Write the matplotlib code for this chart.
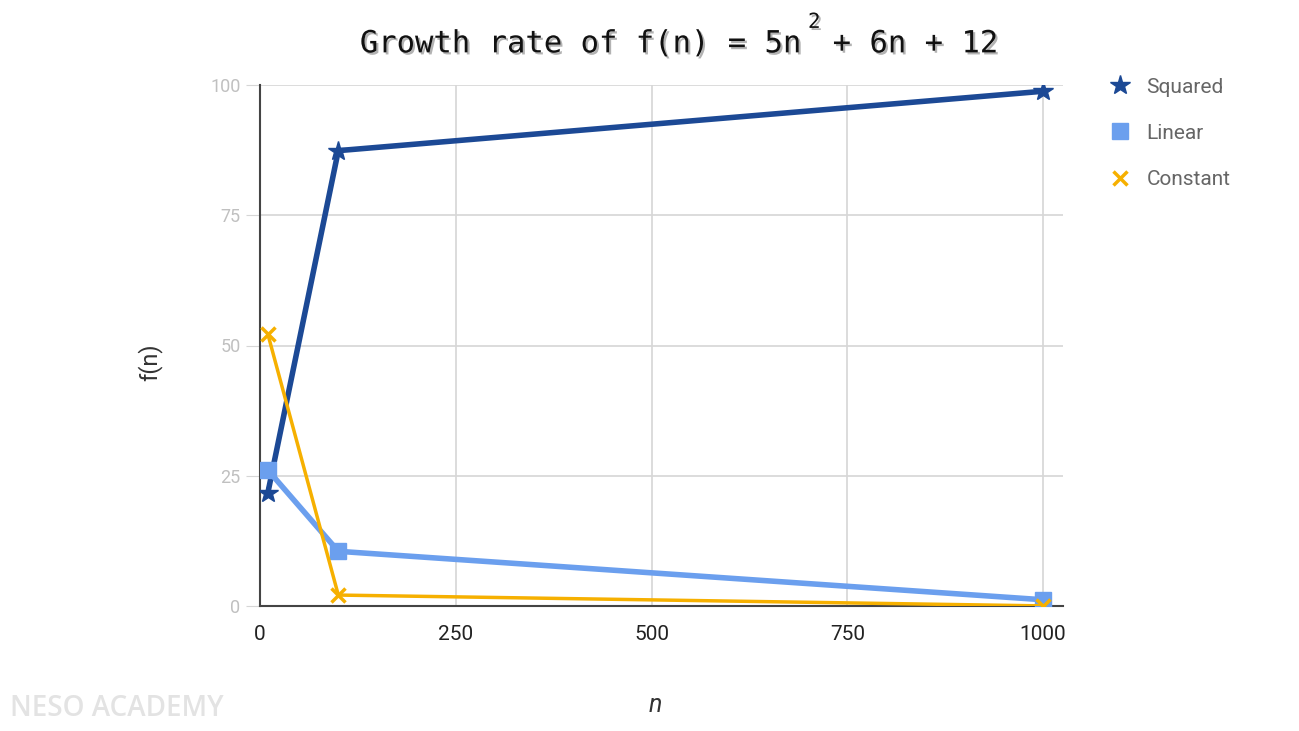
import matplotlib.pyplot as plt
import matplotlib.patheffects as pe

# data (percent share of each term)
n_vals = [10, 100, 1000]
squared = [21.7, 87.4, 98.8]
linear = [26.1, 10.5, 1.2]
constant = [52.2, 2.1, 0.02]
x_ticks = [0, 250, 500, 750, 1000]
y_ticks = [0, 25, 50, 75, 100]

c_sq = '#1c4995'
c_lin = '#6b9fee'
c_con = '#f6b000'

plt.rcParams['font.family'] = ['Roboto', 'DejaVu Sans']

fig = plt.figure(figsize=(12.99, 7.31), dpi=100)
ax = fig.add_axes([260/1299, 1 - 606/731, (1063-260)/1299, (606-85)/731])

ax.plot(n_vals, squared, color=c_sq, lw=4, marker='*', ms=15, label='Squared', zorder=3)
ax.plot(n_vals, linear, color=c_lin, lw=4, marker='s', ms=11, label='Linear', zorder=3)
ax.plot(n_vals, constant, color=c_con, lw=2.5, marker='x', ms=10, mew=2.5, label='Constant', zorder=4)

ax.set_xlim(0, 1025.5)
ax.set_ylim(0, 100)
ax.set_xticks(x_ticks)
ax.set_yticks(y_ticks)
ax.grid(True, color='#d6d6d6', lw=1.2)
ax.set_axisbelow(True)
for s in ['top', 'right']:
    ax.spines[s].set_visible(False)
for s in ['left', 'bottom']:
    ax.spines[s].set_color('#444444')
    ax.spines[s].set_linewidth(1.5)
ax.tick_params(axis='y', length=10, color='#d6d6d6', labelcolor='#c0c0c0', labelsize=13, pad=4)
ax.tick_params(axis='x', length=0, labelcolor='#222222', labelsize=15, pad=14)

# axis titles placed on the figure
fig.text(150/1299, 1 - 362/731, 'f(n)', fontsize=17, color='#333333', rotation=90,
         ha='center', va='center')
fig.text(655/1299, 1 - 705/731, 'n', fontsize=18, style='italic', color='#333333',
         ha='center', va='center')

leg = ax.legend(loc='upper left', bbox_to_anchor=(1.035, 1.05), frameon=False,
                fontsize=15, labelspacing=1.3, handlelength=1.0, handletextpad=0.75,
                numpoints=1)
for t in leg.get_texts():
    t.set_color('#666666')
for h in leg.legend_handles:
    h.set_linestyle('none')

shadow = [pe.withSimplePatchShadow(offset=(1.5, -1.5), alpha=0.3)]
fig.text(0.277, 0.94, 'Growth rate of f(n) = 5n', family='DejaVu Sans Mono', fontsize=22,
         color='#111111', va='center', path_effects=shadow)
fig.text(0.622, 0.97, '2', family='DejaVu Sans Mono', fontsize=15,
         color='#111111', va='center', path_effects=shadow)
fig.text(0.641, 0.94, '+ 6n + 12', family='DejaVu Sans Mono', fontsize=22,
         color='#111111', va='center', path_effects=shadow)

fig.text(0.008, 0.02, 'NESO ACADEMY', family='Open Sans', fontsize=20, weight='semibold',
         color='#e3e3e3')

fig.savefig('out.png', dpi=100)
